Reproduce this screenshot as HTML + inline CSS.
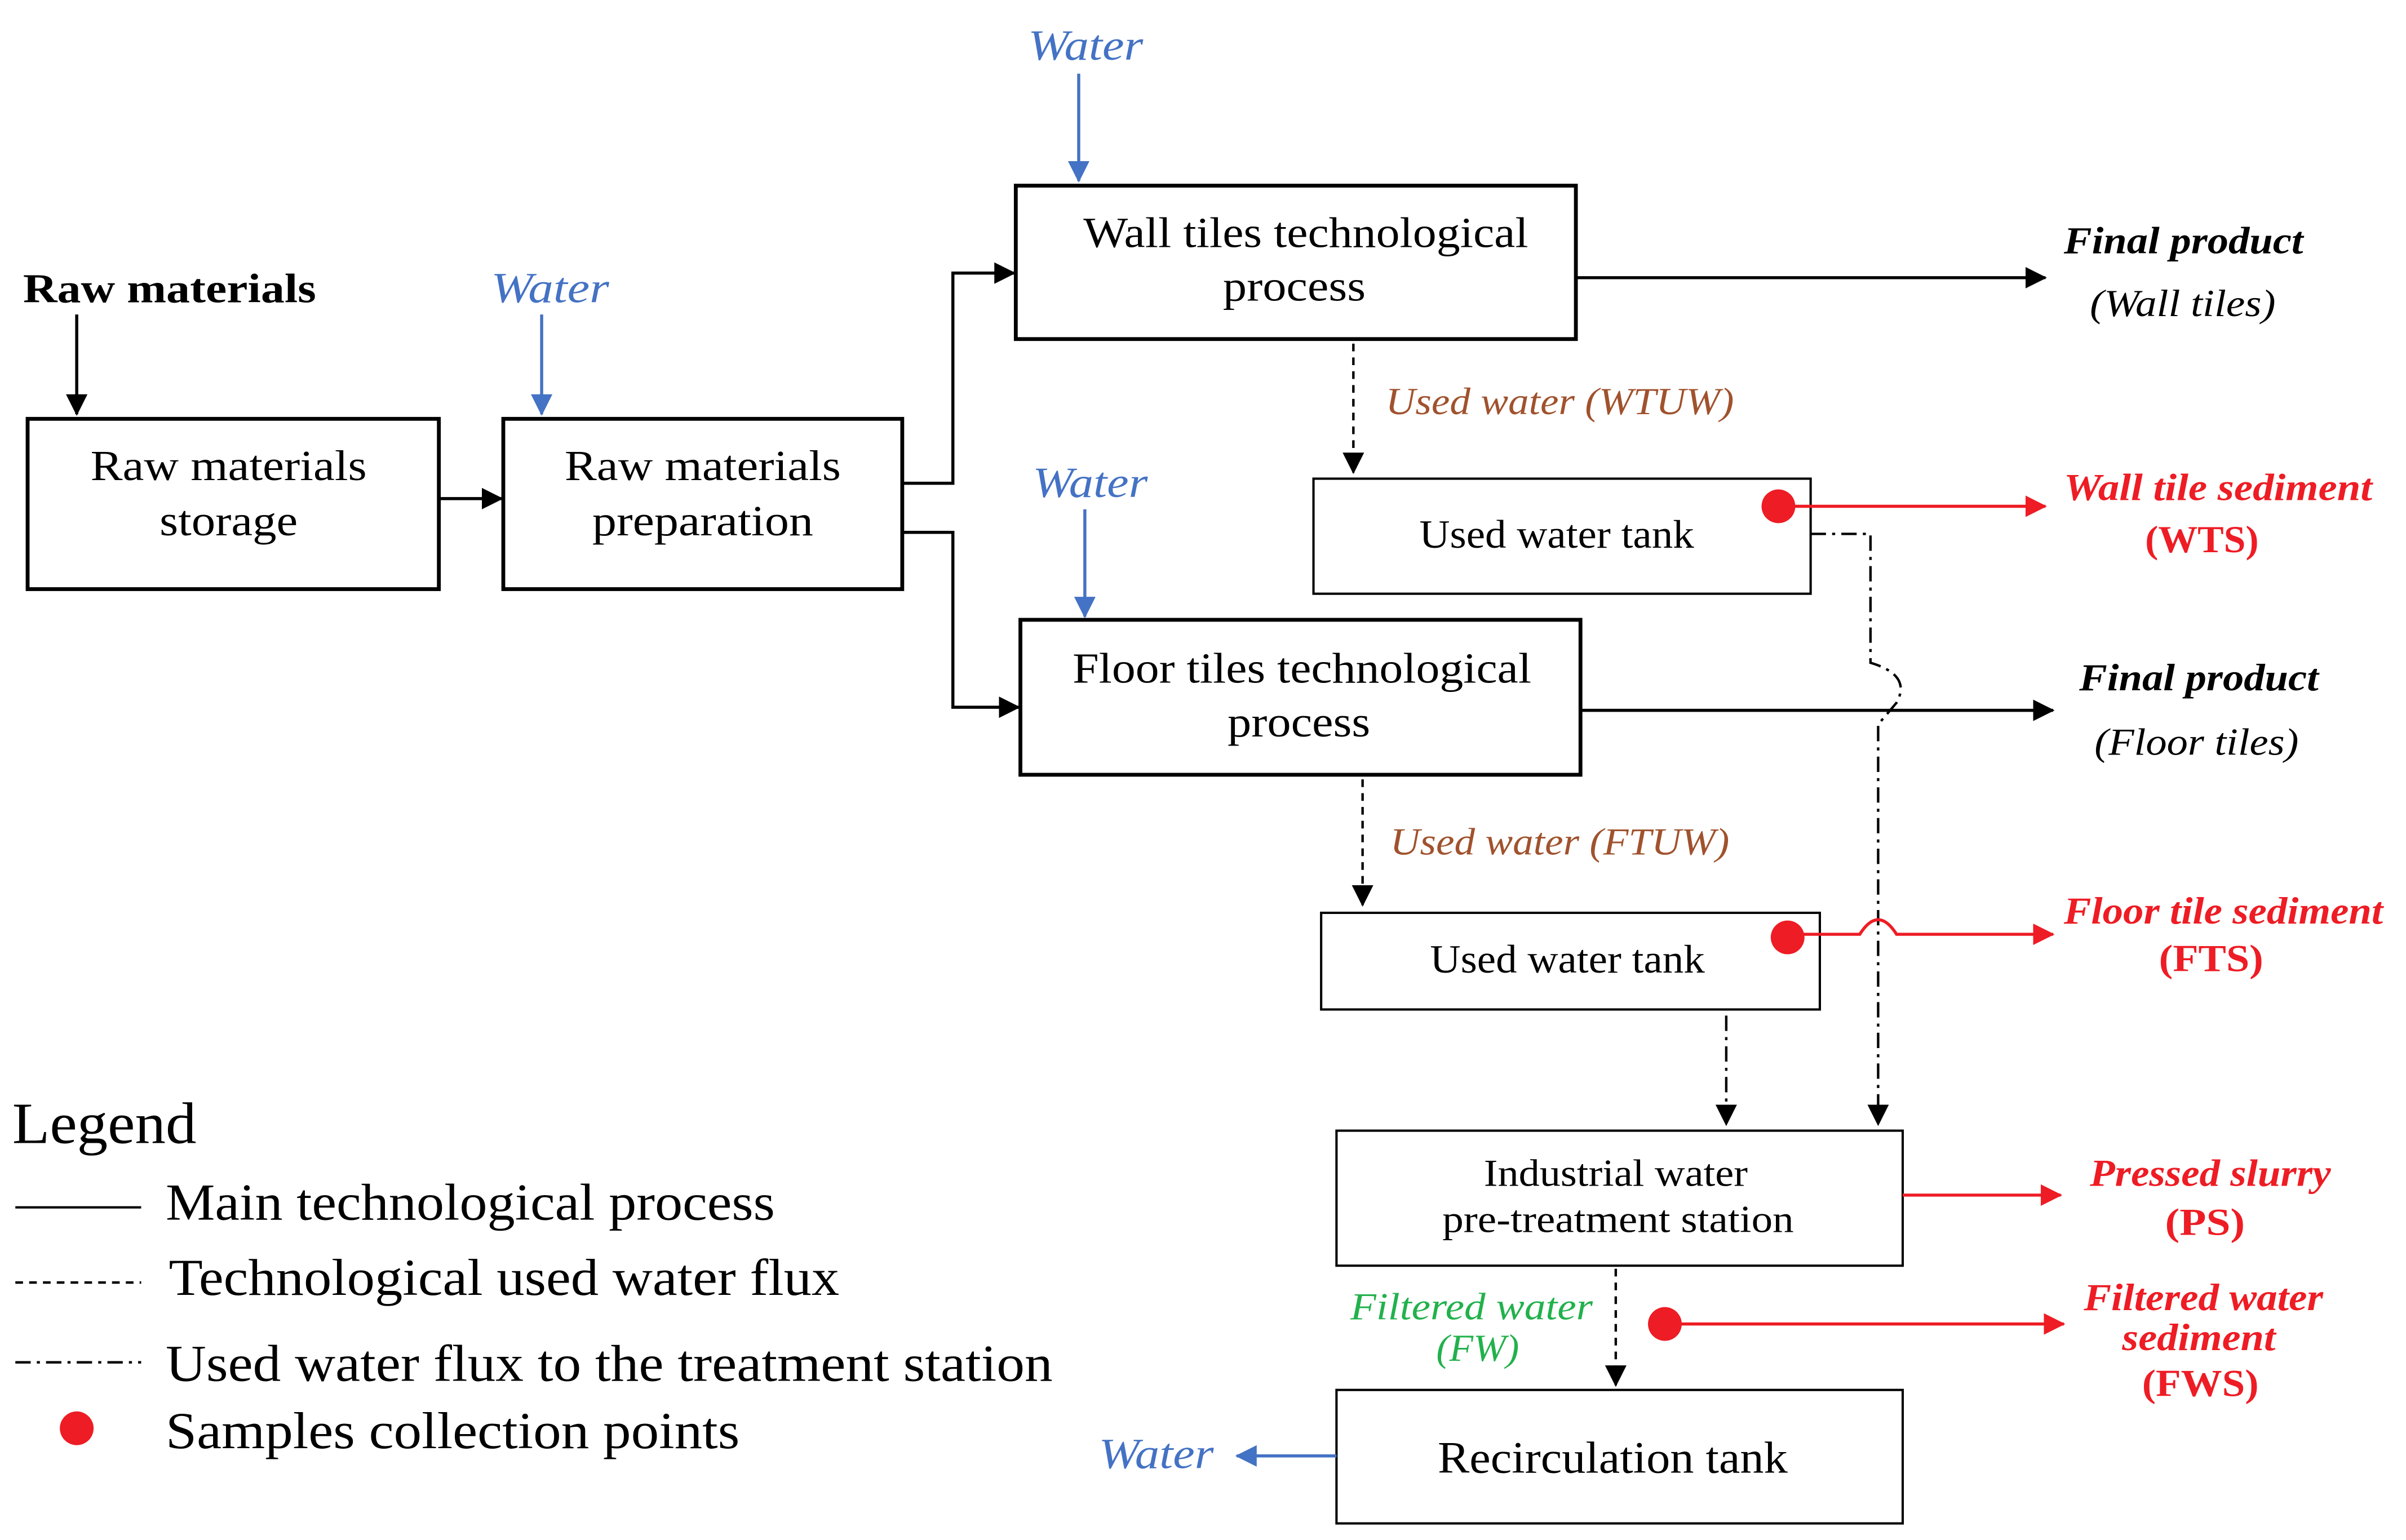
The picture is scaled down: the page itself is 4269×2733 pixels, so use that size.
<!DOCTYPE html>
<html><head><meta charset="utf-8"><style>html,body{margin:0;padding:0;background:#fff}svg{display:block}text{font-family:"Liberation Serif",serif}</style></head><body>
<svg width="4269" height="2733" viewBox="0 0 1568 1003.8" xmlns="http://www.w3.org/2000/svg">
<defs>
<marker id="ak" markerWidth="14" markerHeight="14" refX="13" refY="7" orient="auto" markerUnits="userSpaceOnUse" viewBox="0 0 14 14"><path d="M0,0 L14,7 L0,14 z" fill="#000"/></marker>
<marker id="ab" markerWidth="14" markerHeight="14" refX="13" refY="7" orient="auto" markerUnits="userSpaceOnUse" viewBox="0 0 14 14"><path d="M0,0 L14,7 L0,14 z" fill="#4472c4"/></marker>
<marker id="ar" markerWidth="14" markerHeight="14" refX="13" refY="7" orient="auto" markerUnits="userSpaceOnUse" viewBox="0 0 14 14"><path d="M0,0 L14,7 L0,14 z" fill="#ee1c24"/></marker>
</defs>
<style>
.m{stroke:#000;stroke-width:2;fill:none}
.b{stroke:#4472c4;stroke-width:2;fill:none}
.r{stroke:#ee1c24;stroke-width:2;fill:none}
.d{stroke:#000;stroke-width:1.6;fill:none;stroke-dasharray:5,4}
.dd{stroke:#000;stroke-width:1.6;fill:none;stroke-dasharray:10,4,2,4}
.bx{stroke:#000;stroke-width:2.5;fill:#fff}
.bx2{stroke:#000;stroke-width:1.5;fill:#fff}
.t{font-size:28px;fill:#000}
.w{font-size:28px;fill:#4472c4;font-style:italic}
.fp{font-size:25px;font-weight:bold;font-style:italic}
.rd{font-size:25px;font-weight:bold;font-style:italic;fill:#ee1c24}
.rb{font-size:25px;font-weight:bold;fill:#ee1c24}
.br{font-size:25px;font-style:italic;fill:#a0522d}
</style>
<text x="15" y="197" font-size="27" font-weight="bold" textLength="191" lengthAdjust="spacingAndGlyphs">Raw materials</text>
<line x1="50" y1="205" x2="50" y2="270" class="m" marker-end="url(#ak)"/>
<rect x="18" y="273" width="268" height="111" class="bx"/>
<text x="59" y="313" class="t" textLength="180" lengthAdjust="spacingAndGlyphs">Raw materials</text>
<text x="104" y="349" class="t" textLength="90" lengthAdjust="spacingAndGlyphs">storage</text>
<line x1="286" y1="325" x2="327" y2="325" class="m" marker-end="url(#ak)"/>
<text x="320" y="197" class="w" textLength="77" lengthAdjust="spacingAndGlyphs">Water</text>
<line x1="353" y1="205" x2="353" y2="270" class="b" marker-end="url(#ab)"/>
<rect x="328" y="273" width="260" height="111" class="bx"/>
<text x="368" y="313" class="t" textLength="180" lengthAdjust="spacingAndGlyphs">Raw materials</text>
<text x="386" y="349" class="t" textLength="144" lengthAdjust="spacingAndGlyphs">preparation</text>
<polyline points="588,315 621,315 621,178 661,178" class="m" marker-end="url(#ak)"/>
<polyline points="588,347 621,347 621,461 664,461" class="m" marker-end="url(#ak)"/>
<text x="670" y="39" class="w" textLength="75" lengthAdjust="spacingAndGlyphs">Water</text>
<line x1="703" y1="48" x2="703" y2="118" class="b" marker-end="url(#ab)"/>
<rect x="662" y="121" width="365" height="100" class="bx"/>
<text x="706" y="161" class="t" textLength="290" lengthAdjust="spacingAndGlyphs">Wall tiles technological</text>
<text x="797" y="196" class="t" textLength="93" lengthAdjust="spacingAndGlyphs">process</text>
<line x1="1027" y1="181" x2="1333" y2="181" class="m" marker-end="url(#ak)"/>
<text x="1345" y="165" class="fp" textLength="156" lengthAdjust="spacingAndGlyphs">Final product</text>
<text x="1362" y="206" font-size="25" font-style="italic" textLength="121" lengthAdjust="spacingAndGlyphs">(Wall tiles)</text>
<line x1="882" y1="224" x2="882" y2="308" class="d" marker-end="url(#ak)"/>
<text x="903" y="270" class="br" textLength="227" lengthAdjust="spacingAndGlyphs">Used water (WTUW)</text>
<rect x="856" y="312" width="324" height="75" class="bx2"/>
<text x="925" y="357" font-size="26" textLength="179" lengthAdjust="spacingAndGlyphs">Used water tank</text>
<line x1="1166" y1="330" x2="1333" y2="330" class="r" marker-end="url(#ar)"/>
<circle cx="1159" cy="330" r="11" fill="#ee1c24"/>
<text x="1345" y="326" class="rd" textLength="201" lengthAdjust="spacingAndGlyphs">Wall tile sediment</text>
<text x="1398" y="360" class="rb" textLength="74" lengthAdjust="spacingAndGlyphs">(WTS)</text>
<path d="M1180,348 L1219,348 L1219,432 Q1246,440 1236,458 Q1226,470 1224,472 L1224,733" class="dd" marker-end="url(#ak)"/>
<text x="673" y="324" class="w" textLength="75" lengthAdjust="spacingAndGlyphs">Water</text>
<line x1="707" y1="332" x2="707" y2="402" class="b" marker-end="url(#ab)"/>
<rect x="665" y="404" width="365" height="101" class="bx"/>
<text x="699" y="445" class="t" textLength="299" lengthAdjust="spacingAndGlyphs">Floor tiles technological</text>
<text x="800" y="480" class="t" textLength="93" lengthAdjust="spacingAndGlyphs">process</text>
<line x1="1030" y1="463" x2="1338" y2="463" class="m" marker-end="url(#ak)"/>
<text x="1355" y="450" class="fp" textLength="156" lengthAdjust="spacingAndGlyphs">Final product</text>
<text x="1365" y="492" font-size="25" font-style="italic" textLength="133" lengthAdjust="spacingAndGlyphs">(Floor tiles)</text>
<line x1="888" y1="508" x2="888" y2="590" class="d" marker-end="url(#ak)"/>
<text x="906" y="557" class="br" textLength="221" lengthAdjust="spacingAndGlyphs">Used water (FTUW)</text>
<rect x="861" y="595" width="325" height="63" class="bx2"/>
<text x="932" y="634" font-size="26" textLength="179" lengthAdjust="spacingAndGlyphs">Used water tank</text>
<path d="M1172,609 L1212,609 Q1224,590 1236,609 L1338,609" class="r" marker-end="url(#ar)"/>
<circle cx="1165" cy="611" r="11" fill="#ee1c24"/>
<text x="1345" y="602" class="rd" textLength="208" lengthAdjust="spacingAndGlyphs">Floor tile sediment</text>
<text x="1407" y="633" class="rb" textLength="68" lengthAdjust="spacingAndGlyphs">(FTS)</text>
<line x1="1125" y1="662" x2="1125" y2="733" class="dd" marker-end="url(#ak)"/>
<rect x="871" y="737" width="369" height="88" class="bx2"/>
<text x="967" y="773" font-size="25" textLength="172" lengthAdjust="spacingAndGlyphs">Industrial water</text>
<text x="940" y="803" font-size="25" textLength="229" lengthAdjust="spacingAndGlyphs">pre-treatment station</text>
<line x1="1240" y1="779" x2="1343" y2="779" class="r" marker-end="url(#ar)"/>
<text x="1362" y="773" class="rd" textLength="157" lengthAdjust="spacingAndGlyphs">Pressed slurry</text>
<text x="1411" y="805" class="rb" textLength="52" lengthAdjust="spacingAndGlyphs">(PS)</text>
<line x1="1053" y1="827" x2="1053" y2="903" class="d" marker-end="url(#ak)"/>
<text x="880" y="860" font-size="25" font-style="italic" fill="#22b14c" textLength="158" lengthAdjust="spacingAndGlyphs">Filtered water</text>
<text x="936" y="887" font-size="25" font-style="italic" fill="#22b14c" textLength="54" lengthAdjust="spacingAndGlyphs">(FW)</text>
<line x1="1090" y1="863" x2="1345" y2="863" class="r" marker-end="url(#ar)"/>
<circle cx="1085" cy="863" r="11" fill="#ee1c24"/>
<text x="1358" y="854" class="rd" textLength="156" lengthAdjust="spacingAndGlyphs">Filtered water</text>
<text x="1383" y="880" class="rd" textLength="100" lengthAdjust="spacingAndGlyphs">sediment</text>
<text x="1396" y="910" class="rb" textLength="76" lengthAdjust="spacingAndGlyphs">(FWS)</text>
<rect x="871" y="906" width="369" height="87" class="bx2"/>
<text x="937" y="960" font-size="29" textLength="228" lengthAdjust="spacingAndGlyphs">Recirculation tank</text>
<line x1="871" y1="949" x2="806" y2="949" class="b" marker-end="url(#ab)"/>
<text x="716" y="957" class="w" textLength="75" lengthAdjust="spacingAndGlyphs">Water</text>
<text x="8" y="745" font-size="38" textLength="120" lengthAdjust="spacingAndGlyphs">Legend</text>
<line x1="10" y1="787" x2="92" y2="787" stroke="#000" stroke-width="1.5"/>
<text x="108" y="795" font-size="34" textLength="397" lengthAdjust="spacingAndGlyphs">Main technological process</text>
<line x1="10" y1="836" x2="92" y2="836" class="d"/>
<text x="110" y="844" font-size="34" textLength="437" lengthAdjust="spacingAndGlyphs">Technological used water flux</text>
<line x1="10" y1="888" x2="92" y2="888" class="dd"/>
<text x="108" y="900" font-size="34" textLength="578" lengthAdjust="spacingAndGlyphs">Used water flux to the treatment station</text>
<circle cx="50" cy="931" r="11" fill="#ee1c24"/>
<text x="108" y="944" font-size="34" textLength="374" lengthAdjust="spacingAndGlyphs">Samples collection points</text>
</svg>
</body></html>
